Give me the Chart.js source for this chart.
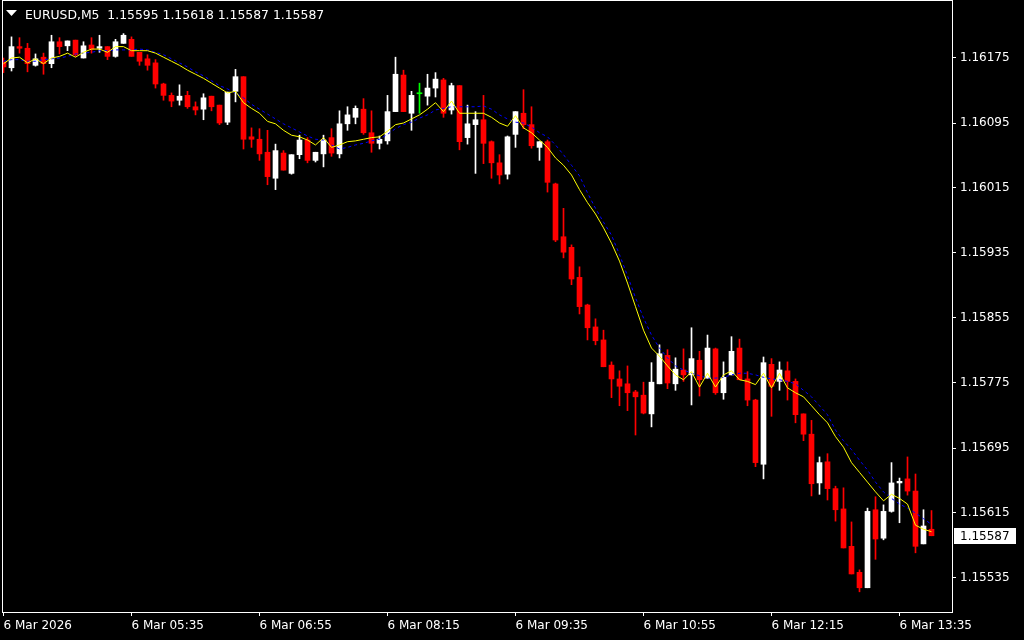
<!DOCTYPE html>
<html><head><meta charset="utf-8">
<script src="https://cdn.jsdelivr.net/npm/chart.js@4.4.1/dist/chart.umd.min.js"></script>
<style>html,body{margin:0;padding:0;background:#000;overflow:hidden}canvas{display:block}</style>
</head><body>
<canvas id="c" width="1024" height="640"></canvas>
<script>
const symbol = 'EURUSD,M5';

const opens = [
1.16170,1.16163,1.16189,1.16187,1.16166,1.16176,1.16168,1.16195,1.16190,1.16197,
1.16175,1.16191,1.16187,1.16189,1.16177,1.16193,1.16198,1.16182,1.16174,1.16169,
1.16143,1.16129,1.16123,1.16129,1.16115,1.16112,1.16128,1.16117,1.16096,1.16134,
1.16152,1.16078,1.16075,1.16059,1.16027,1.16058,1.16033,1.16056,1.16074,1.16049,
1.16057,1.16077,1.16057,1.16094,1.16102,1.16112,1.16083,1.16070,1.16073,1.16109,
1.16154,1.16107,1.16131,1.16128,1.16138,1.16148,1.16111,1.16141,1.16077,1.16093,
1.16099,1.16072,1.16046,1.16032,1.16081,1.16107,1.16093,1.16065,1.16072,1.16020,
1.15955,1.15942,1.15905,1.15871,1.15844,1.15828,1.15797,1.15780,1.15774,1.15764,
1.15760,1.15737,1.15774,1.15809,1.15774,1.15791,1.15785,1.15803,1.15781,1.15817,
1.15763,1.15785,1.15818,1.15780,1.15754,1.15675,1.15798,1.15777,1.15790,1.15777,
1.15737,1.15712,1.15652,1.15678,1.15645,1.15620,1.15574,1.15542,1.15523,1.15619,
1.15584,1.15617,1.15652,1.15657,1.15642,1.15577,1.15595];

const highs = [
1.16175,1.16201,1.16200,1.16193,1.16180,1.16181,1.16203,1.16200,1.16196,1.16197,
1.16195,1.16200,1.16203,1.16189,1.16198,1.16205,1.16201,1.16182,1.16179,1.16173,
1.16144,1.16132,1.16142,1.16134,1.16121,1.16131,1.16128,1.16117,1.16133,1.16161,
1.16152,1.16089,1.16088,1.16086,1.16069,1.16061,1.16056,1.16080,1.16077,1.16059,
1.16080,1.16088,1.16110,1.16115,1.16116,1.16125,1.16110,1.16079,1.16129,1.16176,
1.16160,1.16134,1.16144,1.16155,1.16157,1.16150,1.16144,1.16141,1.16117,1.16109,
1.16129,1.16073,1.16056,1.16079,1.16109,1.16136,1.16115,1.16072,1.16074,1.16021,
1.15990,1.15945,1.15918,1.15872,1.15854,1.15840,1.15801,1.15790,1.15796,1.15766,
1.15776,1.15800,1.15822,1.15816,1.15806,1.15817,1.15843,1.15814,1.15834,1.15818,
1.15801,1.15832,1.15829,1.15789,1.15755,1.15807,1.15805,1.15801,1.15801,1.15780,
1.15737,1.15729,1.15684,1.15688,1.15648,1.15646,1.15604,1.15545,1.15621,1.15635,
1.15625,1.15677,1.15658,1.15684,1.15663,1.15619,1.15618];

const lows = [
1.16157,1.16159,1.16181,1.16158,1.16165,1.16155,1.16163,1.16180,1.16184,1.16177,
1.16175,1.16181,1.16182,1.16173,1.16176,1.16193,1.16177,1.16166,1.16160,1.16138,
1.16123,1.16115,1.16117,1.16113,1.16105,1.16099,1.16110,1.16093,1.16093,1.16121,
1.16063,1.16065,1.16049,1.16019,1.16013,1.16037,1.16032,1.16051,1.16046,1.16047,
1.16041,1.16054,1.16052,1.16086,1.16094,1.16081,1.16059,1.16063,1.16069,1.16109,
1.16109,1.16086,1.16107,1.16117,1.16127,1.16102,1.16106,1.16062,1.16069,1.16033,
1.16045,1.16027,1.16020,1.16026,1.16065,1.16088,1.16064,1.16049,1.16010,1.15949,
1.15929,1.15896,1.15860,1.15828,1.15822,1.15795,1.15757,1.15747,1.15741,1.15711,
1.15737,1.15721,1.15774,1.15768,1.15766,1.15777,1.15748,1.15759,1.15781,1.15761,
1.15755,1.15785,1.15779,1.15747,1.15672,1.15657,1.15734,1.15766,1.15754,1.15726,
1.15704,1.15636,1.15638,1.15631,1.15605,1.15572,1.15540,1.15518,1.15523,1.15558,
1.15582,1.15616,1.15603,1.15637,1.15566,1.15577,1.15587];

const closes = [
1.16164,1.16189,1.16187,1.16168,1.16174,1.16168,1.16195,1.16189,1.16196,1.16179,
1.16190,1.16186,1.16189,1.16177,1.16195,1.16203,1.16177,1.16171,1.16166,1.16143,
1.16129,1.16122,1.16128,1.16115,1.16111,1.16126,1.16115,1.16095,1.16133,1.16152,
1.16075,1.16075,1.16057,1.16029,1.16061,1.16037,1.16056,1.16074,1.16049,1.16059,
1.16074,1.16058,1.16094,1.16105,1.16113,1.16083,1.16070,1.16075,1.16109,1.16155,
1.16109,1.16129,1.16131,1.16138,1.16149,1.16107,1.16141,1.16072,1.16094,1.16099,
1.16070,1.16046,1.16031,1.16078,1.16109,1.16093,1.16067,1.16072,1.16022,1.15951,
1.15936,1.15903,1.15869,1.15843,1.15827,1.15795,1.15780,1.15771,1.15763,1.15758,
1.15738,1.15776,1.15811,1.15775,1.15792,1.15785,1.15805,1.15779,1.15818,1.15763,
1.15782,1.15814,1.15779,1.15754,1.15677,1.15800,1.15771,1.15791,1.15777,1.15736,
1.15712,1.15651,1.15677,1.15645,1.15619,1.15572,1.15540,1.15523,1.15617,1.15583,
1.15617,1.15652,1.15654,1.15642,1.15574,1.15599,1.15587];

const maFast = [
1.16168,1.16175,1.16176,1.16169,1.16174,1.16168,1.16175,1.16177,1.16181,1.16176,
1.16182,1.16186,1.16186,1.16182,1.16189,1.16189,1.16184,1.16184,1.16184,1.16181,
1.16176,1.16171,1.16166,1.16160,1.16155,1.16150,1.16144,1.16138,1.16132,1.16134,
1.16120,1.16113,1.16107,1.16097,1.16094,1.16086,1.16080,1.16078,1.16074,1.16068,
1.16077,1.16065,1.16068,1.16072,1.16073,1.16075,1.16077,1.16078,1.16085,1.16093,
1.16095,1.16100,1.16105,1.16112,1.16120,1.16109,1.16122,1.16107,1.16107,1.16107,
1.16107,1.16102,1.16095,1.16091,1.16104,1.16089,1.16083,1.16074,1.16065,1.16052,
1.16043,1.16031,1.16013,1.15997,1.15983,1.15966,1.15947,1.15925,1.15898,1.15869,
1.15840,1.15818,1.15808,1.15796,1.15785,1.15779,1.15789,1.15770,1.15787,1.15770,
1.15785,1.15790,1.15779,1.15777,1.15773,1.15787,1.15769,1.15787,1.15769,1.15763,
1.15758,1.15747,1.15736,1.15726,1.15709,1.15696,1.15677,1.15665,1.15653,1.15641,
1.15630,1.15638,1.15633,1.15626,1.15600,1.15595,1.15592];

const maSlow = [
1.16171,1.16173,1.16173,1.16171,1.16171,1.16173,1.16174,1.16175,1.16177,1.16180,
1.16181,1.16182,1.16184,1.16184,1.16185,1.16185,1.16185,1.16186,1.16185,1.16182,
1.16179,1.16174,1.16169,1.16164,1.16158,1.16153,1.16147,1.16141,1.16137,1.16132,
1.16126,1.16118,1.16112,1.16106,1.16100,1.16094,1.16089,1.16084,1.16079,1.16075,
1.16074,1.16068,1.16063,1.16065,1.16068,1.16070,1.16073,1.16075,1.16081,1.16088,
1.16093,1.16096,1.16101,1.16105,1.16111,1.16113,1.16115,1.16115,1.16115,1.16115,
1.16116,1.16112,1.16105,1.16100,1.16096,1.16095,1.16090,1.16083,1.16078,1.16068,
1.16056,1.16043,1.16030,1.16009,1.15990,1.15973,1.15957,1.15933,1.15907,1.15880,
1.15855,1.15834,1.15818,1.15806,1.15796,1.15791,1.15787,1.15784,1.15781,1.15781,
1.15782,1.15785,1.15787,1.15787,1.15785,1.15782,1.15780,1.15779,1.15777,1.15774,
1.15766,1.15758,1.15747,1.15736,1.15717,1.15704,1.15693,1.15680,1.15668,1.15653,
1.15641,1.15633,1.15626,1.15621,1.15615,1.15608,1.15601];

const tickBars   = [0, 16, 32, 48, 64, 80, 96, 112];
const tickLabels = ['6 Mar 2026','6 Mar 05:35','6 Mar 06:55','6 Mar 08:15','6 Mar 09:35','6 Mar 10:55','6 Mar 12:15','6 Mar 13:35'];
const priceTicks = [1.16175,1.16095,1.16015,1.15935,1.15855,1.15775,1.15695,1.15615,1.15535];

// ---- layout constants (view only) ----
const FONT = {family: '"DejaVu Sans", Verdana, sans-serif', size: 12};
const HEADER_FONT_PX = 12.4;
const BAR_PX = 8, PLOT_LEFT = 2, PLOT_RIGHT = 952, PLOT_BOTTOM = 612;
const xMin = -(1.5 / BAR_PX);
const xMax = xMin + (PLOT_RIGHT - PLOT_LEFT) / BAR_PX;
const PX_PER_PRICE = 81250;
const yMax = priceTicks[0] + 58 / PX_PER_PRICE;
const yMin = yMax - PLOT_BOTTOM / PX_PER_PRICE;

const idx = opens.map((_, i) => i);
const colorOf = i => closes[i] > opens[i] ? '#FFFFFF' : (closes[i] < opens[i] ? '#FF0000' : '#00FF00');
const colors = idx.map(colorOf);

const wickData = idx.map(i => ({x: i, y: [lows[i], highs[i]]}));
const bodyData = idx.map(i => ({x: i, y: [opens[i], closes[i]]}));
const fastData = idx.map(i => ({x: i, y: maFast[i]}));
const slowData = idx.map(i => ({x: i, y: maSlow[i]}));

Chart.defaults.color = '#FFFFFF';
Chart.defaults.font.family = FONT.family;
Chart.defaults.font.size = FONT.size;

const decor = {
  id: 'decor',
  beforeDraw(chart) {
    const ctx = chart.ctx;
    ctx.save();
    ctx.fillStyle = '#000';
    ctx.fillRect(0, 0, chart.width, chart.height);
    ctx.restore();
  },
  afterDraw(chart) {
    const ctx = chart.ctx, a = chart.chartArea;
    ctx.save();
    // frame
    ctx.strokeStyle = '#FFFFFF';
    ctx.lineWidth = 1;
    ctx.strokeRect(a.left + 0.5, a.top + 0.5, a.right - a.left, a.bottom - a.top);
    // header triangle
    ctx.fillStyle = '#FFFFFF';
    ctx.beginPath();
    ctx.moveTo(6, 10); ctx.lineTo(17, 10); ctx.lineTo(11.5, 16); ctx.closePath();
    ctx.fill();
    // header text
    const last = opens.length - 1;
    const f = v => v.toFixed(5);
    ctx.font = HEADER_FONT_PX + 'px ' + FONT.family;
    ctx.textBaseline = 'alphabetic';
    ctx.textAlign = 'left';
    ctx.fillText(symbol + '  ' + f(opens[last]) + ' ' + f(highs[last]) + ' ' + f(lows[last]) + ' ' + f(closes[last]), 25, 19);
    // current price box
    const y = Math.round(chart.scales.y.getPixelForValue(closes[last]));
    ctx.font = FONT.size + 'px ' + FONT.family;
    ctx.fillStyle = '#FFFFFF';
    ctx.fillRect(954, y - 8, 62, 16);
    ctx.fillStyle = '#000000';
    ctx.textBaseline = 'middle';
    ctx.fillText(f(closes[last]), 960, y + 0.5);
    ctx.restore();
  }
};

new Chart(document.getElementById('c'), {
  type: 'bar',
  data: {
    datasets: [
      {type: 'line', label: 'MA fast', data: fastData, borderColor: '#FFFF00', borderWidth: 1,
       pointRadius: 0, tension: 0, order: 0},
      {type: 'line', label: 'MA slow', data: slowData, borderColor: '#0000FF', borderWidth: 1,
       borderDash: [3, 3], pointRadius: 0, tension: 0, order: 1},
      {type: 'bar', label: 'bodies', data: bodyData, backgroundColor: colors, borderWidth: 0,
       barThickness: 5, grouped: false, minBarLength: 1, order: 2},
      {type: 'bar', label: 'wicks', data: wickData, backgroundColor: colors, borderWidth: 0,
       barThickness: 1, grouped: false, order: 3}
    ]
  },
  options: {
    responsive: false,
    animation: false,
    events: [],
    devicePixelRatio: 1,
    layout: {padding: {left: PLOT_LEFT, right: 0, top: 0, bottom: 0}},
    plugins: {legend: {display: false}, tooltip: {enabled: false}, title: {display: false}},
    scales: {
      x: {
        type: 'linear', position: 'bottom', min: xMin, max: xMax, offset: false,
        grid: {display: true, drawOnChartArea: false, drawTicks: true, tickLength: 4, color: '#FFFFFF', offset: false},
        border: {display: false},
        ticks: {align: 'start', maxRotation: 0, autoSkip: false, padding: 3, color: '#FFFFFF',
                font: FONT,
                callback: (v) => { const k = tickBars.indexOf(v); return k >= 0 ? tickLabels[k] : ''; }},
        afterBuildTicks: s => { s.ticks = tickBars.map(v => ({value: v})); },
        afterFit: s => { s.height = 640 - PLOT_BOTTOM; s.paddingLeft = 0; s.paddingRight = 0; s.paddingTop = 0; s.paddingBottom = 0; }
      },
      y: {
        type: 'linear', position: 'right', min: yMin, max: yMax,
        grid: {display: true, drawOnChartArea: false, drawTicks: true, tickLength: 4, color: '#FFFFFF'},
        border: {display: false},
        ticks: {crossAlign: 'near', padding: 4, color: '#FFFFFF', font: FONT,
                callback: v => Number(v).toFixed(5)},
        afterBuildTicks: s => { s.ticks = priceTicks.map(v => ({value: v})); },
        afterFit: s => { s.width = 1024 - PLOT_RIGHT; s.paddingTop = 0; s.paddingBottom = 0; s.paddingLeft = 0; s.paddingRight = 0; }
      }
    }
  },
  plugins: [decor]
});
</script>
</body></html>
